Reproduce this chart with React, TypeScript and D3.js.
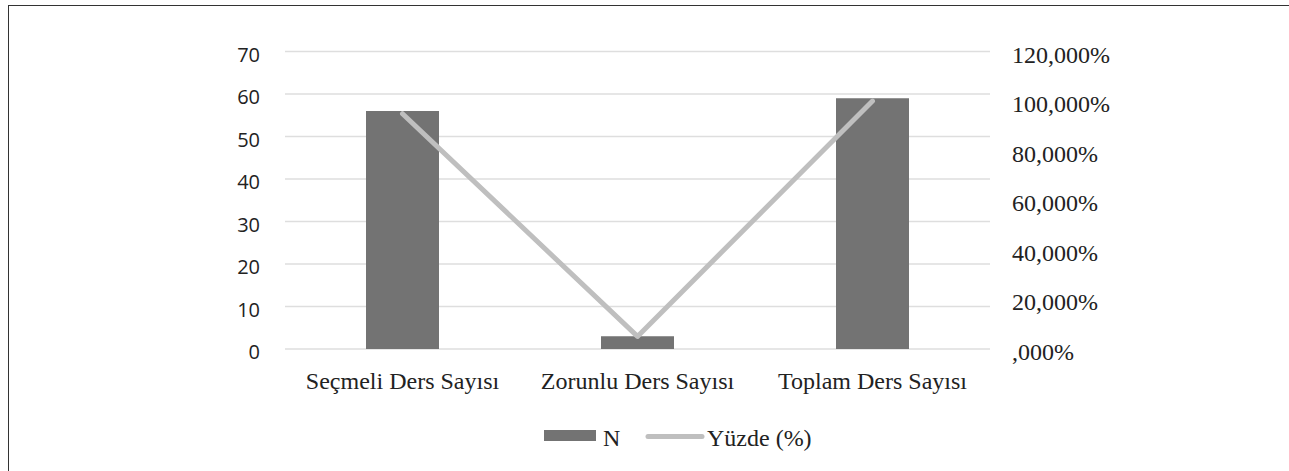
import React from 'react';
import * as d3 from 'd3';

// chart data
const categories = ['Seçmeli Ders Sayısı', 'Zorunlu Ders Sayısı', 'Toplam Ders Sayısı'];
const countValues = [56, 3, 59];
const percentValues = [94.915, 5.085, 100];
const leftTicks = [0, 10, 20, 30, 40, 50, 60, 70];
const rightTicks = [0, 20, 40, 60, 80, 100, 120];
const seriesNames = ['N', 'Yüzde (%)'];

const W = 1289;
const H = 471;
const plotLeft = 285;
const plotRight = 990;
const plotTop = 51.5;
const plotBottom = 349;

const barColor = '#737373';
const lineColor = '#bfbfbf';
const gridColor = '#dedede';
const serif = '"Liberation Serif", "Times New Roman", serif';
const sans = '"Open Sans", "Noto Sans", sans-serif';

function fmtPct(v: number) {
  // Turkish style: comma decimal, no leading zero for 0
  return v === 0 ? ',000%' : `${v},000%`;
}

export default function App() {
  const x = d3.scaleBand<string>().domain(categories).range([plotLeft, plotRight]);
  const yLeft = d3.scaleLinear().domain([0, 70]).range([plotBottom, plotTop]);
  const yRight = d3.scaleLinear().domain([0, 120]).range([plotBottom, plotTop]);
  const barW = 73;

  const linePath = d3
    .line<number>()
    .x((_, i) => x(categories[i])! + x.bandwidth() / 2)
    .y((d) => yRight(d))(percentValues);

  return (
    <svg
      width={W}
      height={H}
      style={{ position: 'absolute', left: 0, top: 0, display: 'block', background: '#fff' }}
    >
      <rect x={8.5} y={5.5} width={1400} height={600} fill="none" stroke="#333" strokeWidth={1} />

      {/* grid */}
      {leftTicks.map((t) => (
        <line key={t} x1={plotLeft} x2={plotRight} y1={yLeft(t)} y2={yLeft(t)} stroke={gridColor} strokeWidth={1.5} />
      ))}

      {/* left axis labels */}
      {leftTicks.map((t) => (
        <text key={t} x={260} y={yLeft(t) + 3} dy="0.36em" textAnchor="end" fontFamily={sans} fontSize={20} fill="#222">
          {t}
        </text>
      ))}

      {/* right axis labels */}
      {rightTicks.map((t) => (
        <text key={t} x={1012} y={yRight(t) + 11} fontFamily={serif} fontSize={24} fill="#222">
          {fmtPct(t)}
        </text>
      ))}

      {/* bars */}
      {countValues.map((v, i) => (
        <rect
          key={categories[i]}
          x={x(categories[i])! + x.bandwidth() / 2 - barW / 2}
          y={yLeft(v)}
          width={barW}
          height={yLeft(0) - yLeft(v)}
          fill={barColor}
        />
      ))}

      {/* percent line */}
      <path d={linePath ?? ''} fill="none" stroke={lineColor} strokeWidth={5} strokeLinejoin="round" strokeLinecap="round" />

      {/* category labels */}
      {categories.map((c) => (
        <text key={c} x={x(c)! + x.bandwidth() / 2} y={389} textAnchor="middle" fontFamily={serif} fontSize={24} fill="#222">
          {c}
        </text>
      ))}

      {/* legend */}
      <rect x={544} y={430} width={52} height={11} fill={barColor} />
      <text x={603} y={446} fontFamily={serif} fontSize={24} fill="#222">{seriesNames[0]}</text>
      <line x1={648} x2={702} y1={436.5} y2={436.5} stroke={lineColor} strokeWidth={5} strokeLinecap="round" />
      <text x={707} y={446} fontFamily={serif} fontSize={24} fill="#222">{seriesNames[1]}</text>
    </svg>
  );
}
